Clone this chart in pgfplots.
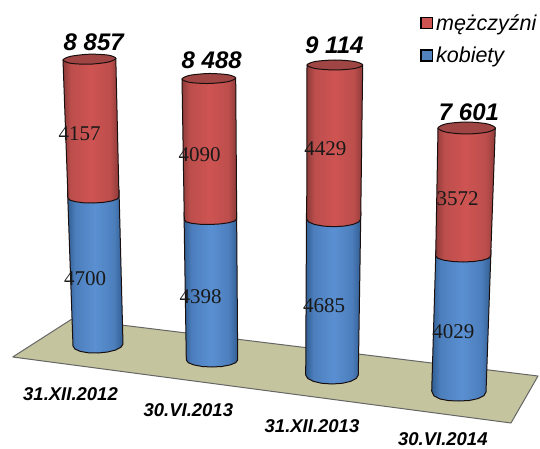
\documentclass[border=0pt]{standalone}
\usepackage{fontspec}
\setmainfont{Liberation Sans}
\newfontfamily\valfont{Liberation Serif}
\usepackage{pgfplots}
\usepackage{pgfplotstable}
\pgfplotsset{compat=1.18}

\definecolor{floorc}{HTML}{C4C49E}
\definecolor{redE}{HTML}{8E3B39}
\definecolor{redS}{HTML}{BC4E4C}
\definecolor{redM}{HTML}{CE5452}
\definecolor{redT}{HTML}{9F4644}
\definecolor{bluE}{HTML}{315E92}
\definecolor{bluS}{HTML}{4C7EBC}
\definecolor{bluM}{HTML}{5A90D2}
\definecolor{edge}{HTML}{1A0F0F}

\pgfdeclarehorizontalshading{redbody}{100bp}{color(0bp)=(redE); color(25bp)=(redE); color(32bp)=(redS); color(50bp)=(redM); color(67bp)=(redS); color(75bp)=(redE); color(100bp)=(redE)}
\pgfdeclarehorizontalshading{blubody}{100bp}{color(0bp)=(bluE); color(25bp)=(bluE); color(32bp)=(bluS); color(50bp)=(bluM); color(67bp)=(bluS); color(75bp)=(bluE); color(100bp)=(bluE)}

% labels, in picture pixels
\pgfplotstableread[col sep=comma]{
x,y,l
93.7,42,8 857
211.7,60,8 488
334.3,45,9 114
469,112,7 601
}\totals
\pgfplotstableread[col sep=comma]{
x,y,l
79.5,134,4157
199.5,155,4090
325.3,149,4429
457.7,199,3572
85,279,4700
200.7,297,4398
324,306,4685
453.3,332,4029
}\values
\pgfplotstableread[col sep=comma]{
x,y,l
70.5,393.7,31.XII.2012
188.3,409.7,30.VI.2013
312,425.7,31.XII.2013
442.8,439,30.VI.2014
}\dates

\pgfplotsset{
  redcyl/.style={draw=edge, line width=1pt, line join=round, shading=redbody},
  blucyl/.style={draw=edge, line width=1pt, line join=round, shading=blubody},
  topcyl/.style={draw=edge, line width=1pt, fill=redT, smooth cycle},
}

\begin{document}
\begin{tikzpicture}
\begin{axis}[
  scale only axis, width=540pt, height=449pt,
  xmin=0, xmax=540, ymin=0, ymax=449, y dir=reverse,
  hide axis, clip=false,
  legend style={at={(axis cs:420,13)}, anchor=north west, draw=none, fill=none,
    inner sep=0pt, row sep=13.5pt, font=\fontsize{21.5}{21.5}\selectfont\itshape,
    nodes={inner sep=1pt}},
  legend cell align=left,
  legend image code/.code={\draw[#1, draw=black, line width=1.4pt] (7pt,-5.5pt) rectangle (18.5pt,5.5pt);},
]
\addlegendimage{fill=redM}
\addlegendentry{\hspace{2pt}mężczyźni}
\addlegendimage{fill=bluM!90!black}
\addlegendentry{\hspace{2pt}kobiety}

% floor
\addplot[draw=black!60, line width=1pt, line join=round, fill=floorc] coordinates {
  (12.7,357) (72,319) (538,376) (511,423) (12.7,357)};

% 31.XII.2012
\addplot[blucyl] coordinates {(67.5,190) (119,190) (123,344) (121.1,347.1) (115.7,350) (107.6,352) (98,353) (88.4,352.8) (80.3,351.4) (74.9,349) (73,346) (67.5,190)};
\addplot[redcyl] coordinates {(63,60) (115.8,58.3) (119,197) (117.1,199.1) (111.5,201) (103.3,202.4) (93.5,203) (83.7,202.8) (75.5,201.7) (69.9,200.1) (68,198) (63,60)};
\addplot[topcyl] coordinates {(115.8,58.3) (108.1,62.1) (89.4,64.2) (70.7,63.3) (63,60) (70.7,56.3) (89.4,54.2) (108.1,55.1)};

% 30.VI.2013
\addplot[blucyl] coordinates {(184,212) (236.6,212) (237.7,360) (235.7,362.7) (230.2,364.9) (221.8,366.5) (212,367) (202.2,366.5) (193.8,364.9) (188.3,362.7) (186.3,360) (184,212)};
\addplot[redcyl] coordinates {(182,79) (235.7,78) (236.7,219) (234.7,221) (229,222.7) (220.5,223.9) (210.5,224.5) (200.5,224.3) (192,223.4) (186.3,221.9) (184.3,220) (182,79)};
\addplot[topcyl] coordinates {(235.7,78) (227.8,81.7) (208.8,83.5) (189.8,82.4) (182,79) (189.8,75.3) (208.8,73.5) (227.8,74.7)};

% 31.XII.2013
\addplot[blucyl] coordinates {(306.5,212) (360.8,212) (358.3,375) (356.3,378.4) (350.6,381.4) (342.1,383.3) (332,384) (321.9,383.3) (313.4,381.4) (307.7,378.4) (305.7,375) (306.5,212)};
\addplot[redcyl] coordinates {(307,65) (362.7,65) (360.7,219.3) (358.6,222.1) (352.8,224.5) (344,226.1) (333.7,226.7) (323.4,226.1) (314.6,224.5) (308.8,222.1) (306.7,219.3) (307,65)};
\addplot[topcyl] coordinates {(362.7,65) (354.6,68.5) (334.9,70) (315.2,68.5) (307,65) (315.2,61.5) (334.9,60) (354.6,61.5)};

% 30.VI.2014
\addplot[blucyl] coordinates {(435.9,250) (491,250) (486,392) (484,395.6) (478,398.6) (469.2,400.5) (458.9,401) (448.5,400.6) (439.7,398.9) (433.8,395.7) (431.7,391) (435.9,250)};
\addplot[redcyl] coordinates {(438,128) (495.3,128) (490.7,256) (488.6,258.3) (482.6,260.2) (473.7,261.5) (463.2,262) (452.7,261.5) (443.8,260.2) (437.8,258.3) (435.7,256) (438,128)};
\addplot[topcyl] coordinates {(495.3,128) (486.9,132.2) (466.6,134) (446.3,132.2) (438,128) (446.3,123.8) (466.6,122) (486.9,123.8)};

% texts
\addplot[draw=none, mark=none, point meta=explicit symbolic, nodes near coords,
  nodes near coords style={anchor=center, inner sep=0pt, text=black, font=\fontsize{24}{24}\selectfont\bfseries\itshape}]
  table[x=x, y=y, meta=l] {\totals};
\addplot[draw=none, mark=none, point meta=explicit symbolic, nodes near coords,
  nodes near coords style={anchor=center, inner sep=0pt, text=black!90, font=\fontsize{21}{21}\selectfont\valfont}]
  table[x=x, y=y, meta=l] {\values};
\addplot[draw=none, mark=none, point meta=explicit symbolic, nodes near coords,
  nodes near coords style={anchor=center, inner sep=0pt, text=black, font=\fontsize{18.5}{18.5}\selectfont\bfseries\itshape}]
  table[x=x, y=y, meta=l] {\dates};

\path[use as bounding box] (axis cs:0,0) rectangle (axis cs:540,449);
\end{axis}
\end{tikzpicture}
\end{document}
